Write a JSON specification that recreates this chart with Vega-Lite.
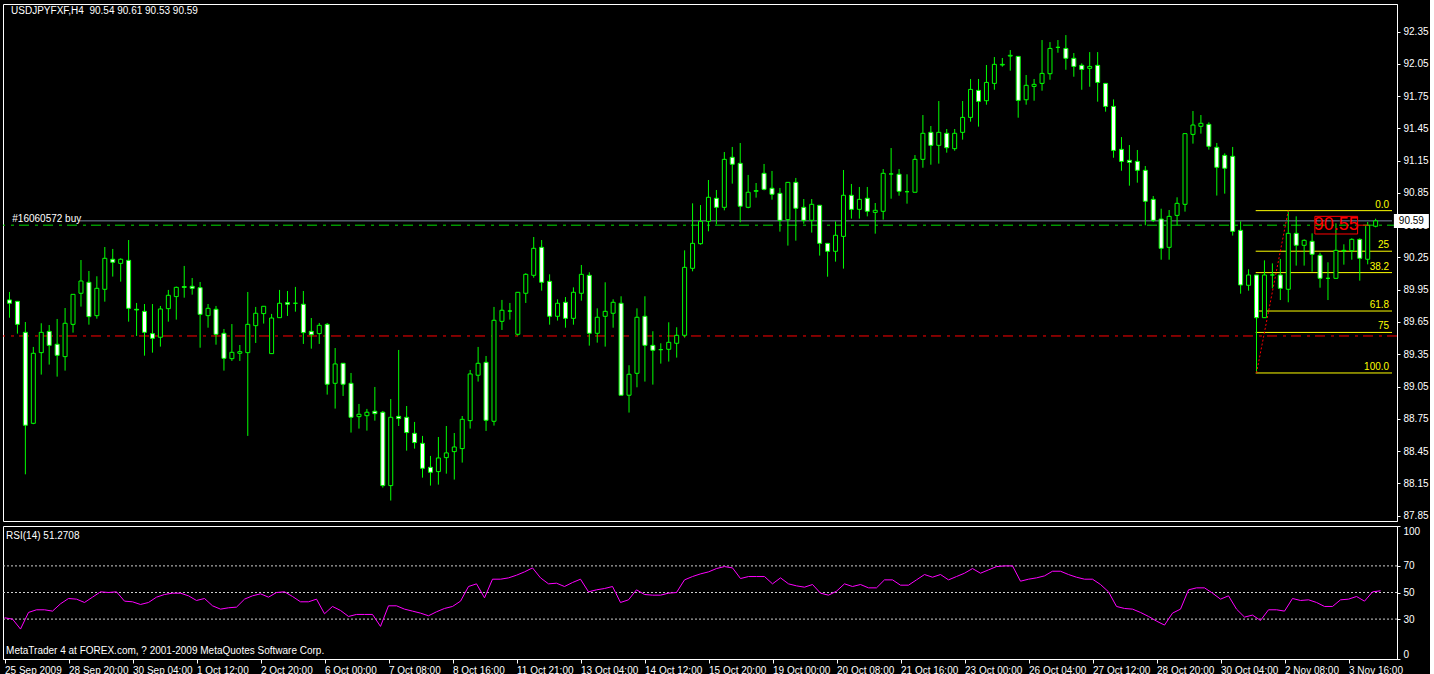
{
"$schema": "https://vega.github.io/schema/vega-lite/v6.json",
"background": "#000000",
"padding": {"left": 2, "top": 3, "right": 0, "bottom": 0},
"spacing": 3,
"config": {
  "view": {"stroke": "#ffffff", "strokeWidth": 1},
  "axis": {"labelColor": "#ffffff", "tickColor": "#ffffff", "domainColor": "#ffffff", "labelFont": "Liberation Sans", "labelFontSize": 10, "grid": false, "tickSize": 3, "labelPadding": 3, "title": null, "labelOverlap": false},
  "text": {"font": "Liberation Sans", "fontSize": 10, "color": "#ffffff"}
},
"datasets": {
"bars": [
{"i":0,"o":89.855,"h":89.929,"l":89.69,"c":89.824,"r":31},
{"i":1,"o":89.842,"h":89.842,"l":89.542,"c":89.628,"r":30},
{"i":2,"o":89.554,"h":89.65,"l":88.234,"c":88.69,"r":22.5},
{"i":3,"o":88.708,"h":89.418,"l":88.7,"c":89.359,"r":35},
{"i":4,"o":89.365,"h":89.638,"l":89.161,"c":89.554,"r":37},
{"i":5,"o":89.563,"h":89.622,"l":89.254,"c":89.433,"r":37},
{"i":6,"o":89.443,"h":89.678,"l":89.142,"c":89.34,"r":36},
{"i":7,"o":89.328,"h":89.78,"l":89.198,"c":89.638,"r":41.5},
{"i":8,"o":89.628,"h":89.907,"l":89.551,"c":89.907,"r":45.5},
{"i":9,"o":89.917,"h":90.226,"l":89.793,"c":90.031,"r":45},
{"i":10,"o":90.019,"h":90.124,"l":89.625,"c":89.7,"r":42.5},
{"i":11,"o":89.709,"h":90.075,"l":89.681,"c":89.963,"r":46.5},
{"i":12,"o":89.954,"h":90.347,"l":89.839,"c":90.242,"r":50.5},
{"i":13,"o":90.233,"h":90.329,"l":90.072,"c":90.205,"r":50},
{"i":14,"o":90.195,"h":90.242,"l":90.025,"c":90.233,"r":50.5},
{"i":15,"o":90.223,"h":90.412,"l":89.653,"c":89.777,"r":43.5},
{"i":16,"o":89.768,"h":89.827,"l":89.52,"c":89.762,"r":43},
{"i":17,"o":89.749,"h":89.817,"l":89.337,"c":89.554,"r":41},
{"i":18,"o":89.542,"h":89.817,"l":89.365,"c":89.498,"r":42.5},
{"i":19,"o":89.508,"h":89.799,"l":89.421,"c":89.771,"r":46.5},
{"i":20,"o":89.774,"h":89.948,"l":89.653,"c":89.898,"r":48.5},
{"i":21,"o":89.886,"h":89.979,"l":89.672,"c":89.972,"r":49.5},
{"i":22,"o":89.979,"h":90.171,"l":89.876,"c":89.972,"r":49.5},
{"i":23,"o":89.982,"h":90.059,"l":89.904,"c":89.963,"r":47.5},
{"i":24,"o":89.969,"h":90.022,"l":89.411,"c":89.721,"r":44},
{"i":25,"o":89.709,"h":89.817,"l":89.597,"c":89.777,"r":45.5},
{"i":26,"o":89.768,"h":89.799,"l":89.439,"c":89.535,"r":40},
{"i":27,"o":89.545,"h":89.585,"l":89.198,"c":89.312,"r":37.5},
{"i":28,"o":89.309,"h":89.631,"l":89.288,"c":89.368,"r":38.5},
{"i":29,"o":89.359,"h":89.436,"l":89.288,"c":89.374,"r":39},
{"i":30,"o":89.365,"h":89.929,"l":88.591,"c":89.628,"r":45},
{"i":31,"o":89.616,"h":89.79,"l":89.455,"c":89.731,"r":47.5},
{"i":32,"o":89.728,"h":89.796,"l":89.635,"c":89.796,"r":49},
{"i":33,"o":89.356,"h":89.725,"l":89.356,"c":89.687,"r":46.5},
{"i":34,"o":89.69,"h":89.948,"l":89.69,"c":89.824,"r":50},
{"i":35,"o":89.83,"h":89.938,"l":89.706,"c":89.815,"r":50.5},
{"i":36,"o":89.824,"h":89.976,"l":89.746,"c":89.824,"r":47},
{"i":37,"o":89.815,"h":89.938,"l":89.446,"c":89.551,"r":43},
{"i":38,"o":89.563,"h":89.687,"l":89.402,"c":89.532,"r":43},
{"i":39,"o":89.542,"h":89.641,"l":89.446,"c":89.619,"r":45},
{"i":40,"o":89.628,"h":89.641,"l":88.975,"c":89.071,"r":34},
{"i":41,"o":89.08,"h":89.408,"l":88.845,"c":89.26,"r":39.5},
{"i":42,"o":89.266,"h":89.266,"l":88.962,"c":89.071,"r":36.5},
{"i":43,"o":89.08,"h":89.176,"l":88.622,"c":88.764,"r":32},
{"i":44,"o":88.77,"h":88.888,"l":88.659,"c":88.792,"r":33.5},
{"i":45,"o":88.779,"h":88.842,"l":88.64,"c":88.811,"r":33.5},
{"i":46,"o":88.82,"h":89.046,"l":88.733,"c":88.798,"r":33.5},
{"i":47,"o":88.811,"h":88.823,"l":88.11,"c":88.129,"r":24.5},
{"i":48,"o":88.129,"h":88.934,"l":87.99,"c":88.764,"r":40},
{"i":49,"o":88.773,"h":89.39,"l":88.683,"c":88.752,"r":40},
{"i":50,"o":88.764,"h":88.869,"l":88.454,"c":88.622,"r":37.5},
{"i":51,"o":88.615,"h":88.721,"l":88.473,"c":88.529,"r":36},
{"i":52,"o":88.522,"h":88.591,"l":88.203,"c":88.29,"r":34.5},
{"i":53,"o":88.299,"h":88.405,"l":88.129,"c":88.253,"r":32.5},
{"i":54,"o":88.259,"h":88.581,"l":88.138,"c":88.386,"r":35.5},
{"i":55,"o":88.389,"h":88.683,"l":88.24,"c":88.433,"r":38},
{"i":56,"o":88.445,"h":88.618,"l":88.185,"c":88.488,"r":39.5},
{"i":57,"o":88.473,"h":88.776,"l":88.343,"c":88.745,"r":43.5},
{"i":58,"o":88.733,"h":89.204,"l":88.659,"c":89.167,"r":54.5},
{"i":59,"o":89.155,"h":89.418,"l":89.096,"c":89.266,"r":56.5},
{"i":60,"o":89.275,"h":89.334,"l":88.637,"c":88.736,"r":46},
{"i":61,"o":88.727,"h":89.79,"l":88.687,"c":89.666,"r":60},
{"i":62,"o":89.656,"h":89.855,"l":89.576,"c":89.759,"r":60},
{"i":63,"o":89.752,"h":89.827,"l":89.672,"c":89.752,"r":61},
{"i":64,"o":89.536,"h":89.926,"l":89.523,"c":89.926,"r":63},
{"i":65,"o":89.917,"h":90.103,"l":89.827,"c":90.093,"r":65.5},
{"i":66,"o":90.084,"h":90.44,"l":90.062,"c":90.335,"r":68.5},
{"i":67,"o":90.344,"h":90.412,"l":89.941,"c":90.019,"r":61},
{"i":68,"o":90.028,"h":90.093,"l":89.625,"c":89.703,"r":56.5},
{"i":69,"o":89.703,"h":89.861,"l":89.663,"c":89.824,"r":57},
{"i":70,"o":89.833,"h":89.882,"l":89.597,"c":89.684,"r":54.5},
{"i":71,"o":89.684,"h":89.972,"l":89.625,"c":89.926,"r":57.5},
{"i":72,"o":89.917,"h":90.18,"l":89.848,"c":90.093,"r":60},
{"i":73,"o":90.084,"h":90.112,"l":89.43,"c":89.545,"r":50.5},
{"i":74,"o":89.545,"h":89.777,"l":89.458,"c":89.694,"r":52},
{"i":75,"o":89.703,"h":90.019,"l":89.421,"c":89.749,"r":53},
{"i":76,"o":89.731,"h":89.861,"l":89.597,"c":89.833,"r":54.5},
{"i":77,"o":89.824,"h":89.889,"l":88.969,"c":88.969,"r":42.5},
{"i":78,"o":88.969,"h":89.248,"l":88.808,"c":89.164,"r":44.5},
{"i":79,"o":89.173,"h":89.777,"l":89.043,"c":89.694,"r":52},
{"i":80,"o":89.703,"h":89.889,"l":89.096,"c":89.433,"r":48.5},
{"i":81,"o":89.433,"h":89.564,"l":89.068,"c":89.387,"r":48},
{"i":82,"o":89.393,"h":89.452,"l":89.263,"c":89.393,"r":48},
{"i":83,"o":89.396,"h":89.647,"l":89.282,"c":89.461,"r":49.5},
{"i":84,"o":89.452,"h":89.601,"l":89.319,"c":89.526,"r":50},
{"i":85,"o":89.526,"h":90.316,"l":89.505,"c":90.158,"r":59.5},
{"i":86,"o":90.149,"h":90.753,"l":90.121,"c":90.381,"r":62},
{"i":87,"o":90.378,"h":90.737,"l":90.369,"c":90.586,"r":64},
{"i":88,"o":90.586,"h":90.97,"l":90.493,"c":90.809,"r":65.5},
{"i":89,"o":90.8,"h":90.877,"l":90.558,"c":90.716,"r":68},
{"i":90,"o":90.716,"h":91.23,"l":90.688,"c":91.162,"r":69.5},
{"i":91,"o":91.181,"h":91.277,"l":90.936,"c":91.116,"r":68.5},
{"i":92,"o":91.125,"h":91.314,"l":90.577,"c":90.726,"r":60.5},
{"i":93,"o":90.716,"h":91.017,"l":90.707,"c":90.856,"r":62},
{"i":94,"o":90.865,"h":90.942,"l":90.806,"c":90.871,"r":62},
{"i":95,"o":91.032,"h":91.119,"l":90.874,"c":90.883,"r":62},
{"i":96,"o":90.893,"h":91.054,"l":90.787,"c":90.837,"r":56.5},
{"i":97,"o":90.846,"h":90.896,"l":90.49,"c":90.595,"r":61},
{"i":98,"o":90.601,"h":90.948,"l":90.36,"c":90.948,"r":56.5},
{"i":99,"o":90.948,"h":90.989,"l":90.406,"c":90.707,"r":55},
{"i":100,"o":90.716,"h":90.793,"l":90.564,"c":90.595,"r":54},
{"i":101,"o":90.595,"h":90.793,"l":90.481,"c":90.744,"r":56},
{"i":102,"o":90.735,"h":90.735,"l":90.267,"c":90.381,"r":49.5},
{"i":103,"o":90.381,"h":90.381,"l":90.071,"c":90.307,"r":48},
{"i":104,"o":90.307,"h":90.586,"l":90.211,"c":90.456,"r":51},
{"i":105,"o":90.446,"h":91.063,"l":90.146,"c":90.828,"r":56.5},
{"i":106,"o":90.828,"h":90.933,"l":90.611,"c":90.697,"r":54.5},
{"i":107,"o":90.697,"h":90.905,"l":90.611,"c":90.79,"r":56},
{"i":108,"o":90.8,"h":90.905,"l":90.632,"c":90.679,"r":53.5},
{"i":109,"o":90.669,"h":90.756,"l":90.471,"c":90.688,"r":53.5},
{"i":110,"o":90.679,"h":91.072,"l":90.601,"c":91.032,"r":59.5},
{"i":111,"o":91.026,"h":91.267,"l":90.796,"c":91.026,"r":59.5},
{"i":112,"o":91.023,"h":91.072,"l":90.824,"c":90.865,"r":55.5},
{"i":113,"o":90.861,"h":91.023,"l":90.75,"c":90.861,"r":55.5},
{"i":114,"o":90.856,"h":91.202,"l":90.856,"c":91.162,"r":59.5},
{"i":115,"o":91.162,"h":91.574,"l":91.084,"c":91.404,"r":63.5},
{"i":116,"o":91.413,"h":91.472,"l":91.112,"c":91.292,"r":61.5},
{"i":117,"o":91.292,"h":91.704,"l":91.122,"c":91.413,"r":63.5},
{"i":118,"o":91.404,"h":91.444,"l":91.224,"c":91.27,"r":59.5},
{"i":119,"o":91.261,"h":91.444,"l":91.242,"c":91.404,"r":62},
{"i":120,"o":91.413,"h":91.704,"l":91.345,"c":91.552,"r":64.5},
{"i":121,"o":91.552,"h":91.909,"l":91.512,"c":91.812,"r":68},
{"i":122,"o":91.803,"h":91.909,"l":91.466,"c":91.701,"r":64.5},
{"i":123,"o":91.707,"h":92.039,"l":91.67,"c":91.877,"r":67},
{"i":124,"o":91.868,"h":92.113,"l":91.809,"c":92.045,"r":69.5},
{"i":125,"o":92.039,"h":92.104,"l":92.023,"c":92.045,"r":70},
{"i":126,"o":92.122,"h":92.178,"l":91.986,"c":92.129,"r":70},
{"i":127,"o":92.119,"h":92.119,"l":91.549,"c":91.71,"r":58.5},
{"i":128,"o":91.716,"h":91.946,"l":91.67,"c":91.85,"r":60},
{"i":129,"o":91.84,"h":91.909,"l":91.707,"c":91.859,"r":61},
{"i":130,"o":91.868,"h":92.271,"l":91.8,"c":91.961,"r":62.5},
{"i":131,"o":91.958,"h":92.252,"l":91.902,"c":92.193,"r":66},
{"i":132,"o":92.203,"h":92.271,"l":92.153,"c":92.203,"r":66},
{"i":133,"o":92.193,"h":92.317,"l":91.995,"c":92.101,"r":63.5},
{"i":134,"o":92.101,"h":92.15,"l":91.93,"c":92.026,"r":61.5},
{"i":135,"o":92.036,"h":92.054,"l":91.809,"c":91.998,"r":60},
{"i":136,"o":92.008,"h":92.159,"l":91.837,"c":92.026,"r":60},
{"i":137,"o":92.036,"h":92.159,"l":91.698,"c":91.877,"r":56},
{"i":138,"o":91.868,"h":91.868,"l":91.605,"c":91.654,"r":50.5},
{"i":139,"o":91.654,"h":91.719,"l":91.177,"c":91.245,"r":39.5},
{"i":140,"o":91.255,"h":91.369,"l":91.056,"c":91.143,"r":38},
{"i":141,"o":91.153,"h":91.295,"l":90.917,"c":91.134,"r":37.5},
{"i":142,"o":91.143,"h":91.249,"l":90.945,"c":91.06,"r":35},
{"i":143,"o":91.06,"h":91.1,"l":90.549,"c":90.772,"r":32},
{"i":144,"o":90.79,"h":90.821,"l":90.579,"c":90.595,"r":28.5},
{"i":145,"o":90.607,"h":90.703,"l":90.229,"c":90.335,"r":25.5},
{"i":146,"o":90.344,"h":90.691,"l":90.229,"c":90.632,"r":34.5},
{"i":147,"o":90.641,"h":90.809,"l":90.549,"c":90.753,"r":37.5},
{"i":148,"o":90.744,"h":91.401,"l":90.676,"c":91.401,"r":52},
{"i":149,"o":91.394,"h":91.611,"l":91.308,"c":91.481,"r":53.5},
{"i":150,"o":91.469,"h":91.574,"l":91.401,"c":91.497,"r":53.5},
{"i":151,"o":91.487,"h":91.506,"l":91.252,"c":91.283,"r":49.5},
{"i":152,"o":91.274,"h":91.314,"l":90.825,"c":91.088,"r":45},
{"i":153,"o":91.199,"h":91.218,"l":90.843,"c":91.079,"r":47.5},
{"i":154,"o":91.19,"h":91.277,"l":90.453,"c":90.493,"r":37.5},
{"i":155,"o":90.502,"h":90.586,"l":89.913,"c":89.994,"r":31.5},
{"i":156,"o":89.991,"h":90.14,"l":89.941,"c":90.087,"r":33},
{"i":157,"o":90.087,"h":90.087,"l":89.176,"c":89.69,"r":29},
{"i":158,"o":89.69,"h":90.223,"l":89.69,"c":90.087,"r":37},
{"i":159,"o":90.087,"h":90.195,"l":89.963,"c":90.087,"r":37},
{"i":160,"o":90.087,"h":90.236,"l":89.854,"c":89.963,"r":36},
{"i":161,"o":89.954,"h":90.679,"l":89.833,"c":90.474,"r":45.5},
{"i":162,"o":90.474,"h":90.632,"l":90.174,"c":90.363,"r":44},
{"i":163,"o":90.363,"h":90.418,"l":90.174,"c":90.409,"r":44.5},
{"i":164,"o":90.4,"h":90.474,"l":90.118,"c":90.279,"r":42.5},
{"i":165,"o":90.27,"h":90.294,"l":89.969,"c":90.056,"r":39.5},
{"i":166,"o":90.056,"h":90.205,"l":89.854,"c":90.056,"r":39.5},
{"i":167,"o":90.056,"h":90.567,"l":90.056,"c":90.316,"r":44.5},
{"i":168,"o":90.31,"h":90.372,"l":90.183,"c":90.316,"r":45},
{"i":169,"o":90.313,"h":90.428,"l":90.229,"c":90.418,"r":47},
{"i":170,"o":90.418,"h":90.428,"l":90.034,"c":90.242,"r":43.5},
{"i":171,"o":90.233,"h":90.58,"l":90.186,"c":90.548,"r":50.5},
{"i":172,"o":90.54,"h":90.61,"l":90.53,"c":90.59,"r":51.27}
],
"fib": [
{"lv":"0.0","p":90.685},{"lv":"25","p":90.308},{"lv":"38.2","p":90.109},
{"lv":"61.8","p":89.752},{"lv":"75","p":89.553},{"lv":"100.0","p":89.176}
]
},
"vconcat": [
{
"width": 1394, "height": 517,
"layer": [
{"data": {"values": [{"p": 89.52}]}, "mark": {"type": "rule", "color": "#ff0000", "strokeWidth": 1, "strokeDash": [10, 5, 3, 6]},
 "encoding": {"y": {"field": "p", "type": "quantitative", "scale": {"domain": [87.8, 92.606], "nice": false, "zero": false},
   "axis": {"orient": "right", "values": [87.85,88.15,88.45,88.75,89.05,89.35,89.65,89.95,90.25,90.55,90.85,91.15,91.45,91.75,92.05,92.35], "tickCount": 100, "format": ".2f", "labelOverlap": false}}}},
{"data": {"values": [{"p": 90.59, "a": 8.8, "b": 174.06}]}, "mark": {"type": "rule", "color": "#7d8ca3", "strokeWidth": 1},
 "encoding": {"x": {"field": "a", "type": "quantitative", "scale": {"domain": [-0.1875, 174.06], "nice": false, "zero": false}, "axis": null}, "x2": {"field": "b"}, "y": {"field": "p", "type": "quantitative"}}},
{"data": {"values": [{"p": 90.55}]}, "mark": {"type": "rule", "color": "#00dd00", "strokeWidth": 1, "strokeDash": [10, 5, 3, 6]},
 "encoding": {"y": {"field": "p", "type": "quantitative"}}},
{"data": {"name": "fib"}, "mark": {"type": "rule", "color": "#ffff00", "strokeWidth": 1},
 "encoding": {"x": {"datum": 156.9, "type": "quantitative"}, "x2": {"datum": 174.06}, "y": {"field": "p", "type": "quantitative"}}},
{"data": {"name": "fib"}, "mark": {"type": "text", "color": "#ffff00", "align": "right", "baseline": "bottom", "dy": -1, "fontSize": 10},
 "encoding": {"x": {"datum": 173.7, "type": "quantitative"}, "y": {"field": "p", "type": "quantitative"}, "text": {"field": "lv"}}},
{"data": {"name": "bars"}, "mark": {"type": "rule", "color": "#00ff00", "strokeWidth": 1},
 "encoding": {"x": {"field": "i", "type": "quantitative"}, "y": {"field": "l", "type": "quantitative"}, "y2": {"field": "h"}}},
{"data": {"name": "bars"}, "mark": {"type": "bar", "width": 4, "stroke": "#00ff00", "strokeWidth": 1},
 "encoding": {"x": {"field": "i", "type": "quantitative"}, "y": {"field": "o", "type": "quantitative"}, "y2": {"field": "c"},
   "fill": {"condition": {"test": "datum.c < datum.o", "value": "#ffffff"}, "value": "#000000"}}},
{"data": {"values": [{"i": 157, "p": 89.176}, {"i": 161, "p": 90.685}]}, "mark": {"type": "line", "color": "#ff0000", "strokeWidth": 1, "strokeDash": [2, 2]},
 "encoding": {"x": {"field": "i", "type": "quantitative"}, "y": {"field": "p", "type": "quantitative"}}},
{"data": {"values": [{"a": 164.35, "b": 169.73, "p1": 90.468, "p2": 90.632}]}, "mark": {"type": "rect", "fillOpacity": 0, "stroke": "#ff0000", "strokeWidth": 1},
 "encoding": {"x": {"field": "a", "type": "quantitative"}, "x2": {"field": "b"}, "y": {"field": "p1", "type": "quantitative"}, "y2": {"field": "p2"}}},
{"data": {"values": [{"a": 169.8, "b": 171.1, "p": 90.55}]}, "mark": {"type": "rule", "color": "#ff0000", "strokeWidth": 1},
 "encoding": {"x": {"field": "a", "type": "quantitative"}, "x2": {"field": "b"}, "y": {"field": "p", "type": "quantitative"}}},
{"data": {"values": [{"t": "90.55", "i": 167.04, "p": 90.55}]}, "mark": {"type": "text", "fontSize": 18, "color": "#ff0000", "align": "center", "baseline": "middle"},
 "encoding": {"x": {"field": "i", "type": "quantitative"}, "y": {"field": "p", "type": "quantitative"}, "text": {"field": "t"}}},
{"data": {"values": [{"t": "#16060572 buy", "i": 0.35, "p": 90.607}]}, "mark": {"type": "text", "align": "left", "baseline": "middle", "fontSize": 10, "color": "#ffffff"},
 "encoding": {"x": {"field": "i", "type": "quantitative"}, "y": {"field": "p", "type": "quantitative"}, "text": {"field": "t"}}},
{"data": {"values": [{"t": "USDJPYFXF,H4\u00a0\u00a090.54 90.61 90.53 90.59", "i": 0.2, "p": 92.54}]}, "mark": {"type": "text", "align": "left", "baseline": "middle", "fontSize": 10, "color": "#ffffff"},
 "encoding": {"x": {"field": "i", "type": "quantitative"}, "y": {"field": "p", "type": "quantitative"}, "text": {"field": "t"}}},
{"data": {"values": [{"a": 174.3, "b": 178.7, "p1": 90.524, "p2": 90.654}]}, "mark": {"type": "rect", "fill": "#ffffff"},
 "encoding": {"x": {"field": "a", "type": "quantitative"}, "x2": {"field": "b"}, "y": {"field": "p1", "type": "quantitative"}, "y2": {"field": "p2"}}},
{"data": {"values": [{"t": "90.59", "i": 176.5, "p": 90.59}]}, "mark": {"type": "text", "align": "center", "baseline": "middle", "fontSize": 10, "color": "#000000"},
 "encoding": {"x": {"field": "i", "type": "quantitative"}, "y": {"field": "p", "type": "quantitative"}, "text": {"field": "t"}}}
]
},
{
"width": 1394, "height": 133,
"layer": [
{"data": {"values": [{"v": 30}, {"v": 50}, {"v": 70}]}, "mark": {"type": "rule", "color": "#d0d0d0", "strokeWidth": 1, "strokeDash": [2, 2]},
 "encoding": {"y": {"field": "v", "type": "quantitative", "scale": {"domain": [0, 100], "nice": false},
   "axis": {"orient": "right", "values": [0, 30, 50, 70, 100], "tickCount": 100, "labelFlush": true, "labelOverlap": false}}}},
{"data": {"name": "bars"}, "mark": {"type": "line", "color": "#ff00ff", "strokeWidth": 1},
 "encoding": {"x": {"field": "i", "type": "quantitative", "scale": {"domain": [-0.1875, 174.06], "nice": false, "zero": false},
   "axis": {"orient": "bottom", "values": [0,8,16,24,32,40,48,56,64,72,80,88,96,104,112,120,128,136,144,152,160,168], "tickCount": 100,
     "labelExpr": "['25 Sep 2009','28 Sep 20:00','30 Sep 04:00','1 Oct 12:00','2 Oct 20:00','6 Oct 00:00','7 Oct 08:00','8 Oct 16:00','11 Oct 21:00','13 Oct 04:00','14 Oct 12:00','15 Oct 20:00','19 Oct 00:00','20 Oct 08:00','21 Oct 16:00','23 Oct 00:00','26 Oct 04:00','27 Oct 12:00','28 Oct 20:00','30 Oct 04:00','2 Nov 08:00','3 Nov 16:00'][round(datum.value/8)]",
     "labelAlign": "left", "labelOverlap": false, "tickSize": 4, "labelPadding": 2, "labelFlush": false}},
   "y": {"field": "r", "type": "quantitative"}}},
{"data": {"values": [{"t": "RSI(14) 51.2708", "i": 0.2, "v": 92.5}]}, "mark": {"type": "text", "align": "left", "baseline": "middle", "fontSize": 10, "color": "#ffffff"},
 "encoding": {"x": {"field": "i", "type": "quantitative"}, "y": {"field": "v", "type": "quantitative"}, "text": {"field": "t"}}},
{"data": {"values": [{"t": "MetaTrader 4 at FOREX.com, ? 2001-2009 MetaQuotes Software Corp.", "i": 0.2, "v": 6}]}, "mark": {"type": "text", "align": "left", "baseline": "middle", "fontSize": 10, "color": "#ffffff"},
 "encoding": {"x": {"field": "i", "type": "quantitative"}, "y": {"field": "v", "type": "quantitative"}, "text": {"field": "t"}}}
]
}
]
}
